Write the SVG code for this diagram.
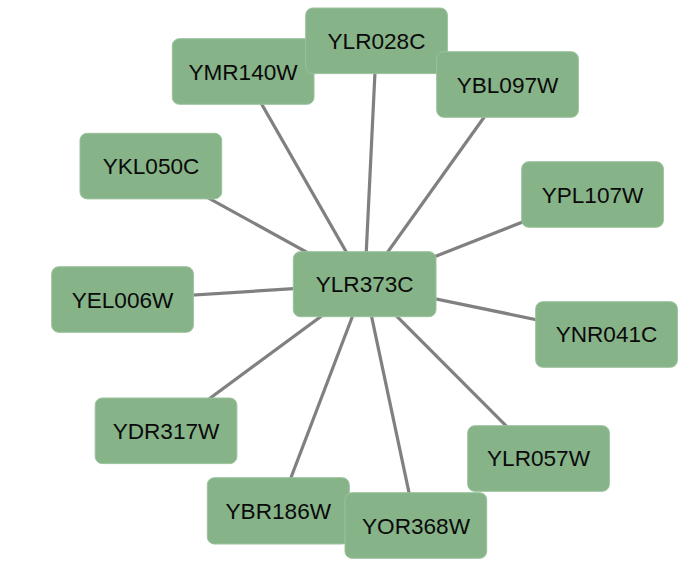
<svg xmlns="http://www.w3.org/2000/svg" width="691" height="562" viewBox="0 0 691 562">
<style>
.n rect{fill:#86b388;stroke:#9cc29d;stroke-width:1}
.n text{font-family:"Liberation Sans",Arial,sans-serif;font-size:22.6px;fill:#0a0a0a;text-anchor:middle}
.e line{stroke:#808080;stroke-width:3.2}
</style>
<rect width="691" height="562" fill="#fff"/>
<g id="edges" class="e">
<line x1="364.7" y1="284.2" x2="376.5" y2="41"/>
<line x1="364.7" y1="284.2" x2="243" y2="71.5"/>
<line x1="364.7" y1="284.2" x2="507.5" y2="84.5"/>
<line x1="364.7" y1="284.2" x2="151" y2="166.3"/>
<line x1="364.7" y1="284.2" x2="592.5" y2="194.5"/>
<line x1="364.7" y1="284.2" x2="122.5" y2="299.5"/>
<line x1="364.7" y1="284.2" x2="606.5" y2="334.2"/>
<line x1="364.7" y1="284.2" x2="166" y2="430.7"/>
<line x1="364.7" y1="284.2" x2="538.5" y2="458.2"/>
<line x1="364.7" y1="284.2" x2="278.3" y2="510.8"/>
<line x1="364.7" y1="284.2" x2="416" y2="525.5"/>
</g>
<g id="YMR140W" class="n"><rect x="172.3" y="38.7" width="141.7" height="65.6" rx="7"/><text x="243" y="79.5">YMR140W</text></g>
<g id="YLR028C" class="n"><rect x="305.7" y="8" width="141.7" height="65.6" rx="7"/><text x="376.5" y="49">YLR028C</text></g>
<g id="YBL097W" class="n"><rect x="436.7" y="51.7" width="141.7" height="65.6" rx="7"/><text x="507.5" y="92.5">YBL097W</text></g>
<g id="YKL050C" class="n"><rect x="80" y="133.3" width="141.7" height="65.6" rx="7"/><text x="151" y="174.3">YKL050C</text></g>
<g id="YPL107W" class="n"><rect x="521.7" y="161.7" width="141.7" height="65.6" rx="7"/><text x="592.5" y="202.5">YPL107W</text></g>
<g id="YEL006W" class="n"><rect x="51.7" y="266.7" width="141.7" height="65.6" rx="7"/><text x="122.5" y="307.5">YEL006W</text></g>
<g id="YLR373C" class="n"><rect x="293.3" y="251.7" width="142.7" height="65" rx="7"/><text x="364.7" y="292.2">YLR373C</text></g>
<g id="YNR041C" class="n"><rect x="535.7" y="301.7" width="141.7" height="65.6" rx="7"/><text x="606.5" y="342.2">YNR041C</text></g>
<g id="YDR317W" class="n"><rect x="95.2" y="398" width="141.7" height="65.6" rx="7"/><text x="166" y="438.7">YDR317W</text></g>
<g id="YLR057W" class="n"><rect x="467.7" y="425.7" width="141.7" height="65.6" rx="7"/><text x="538.5" y="466.2">YLR057W</text></g>
<g id="YBR186W" class="n"><rect x="207.3" y="477.7" width="142" height="66.3" rx="7"/><text x="278.3" y="518.8">YBR186W</text></g>
<g id="YOR368W" class="n"><rect x="345" y="492.7" width="141.7" height="65.6" rx="7"/><text x="416" y="533.5">YOR368W</text></g>
</svg>
